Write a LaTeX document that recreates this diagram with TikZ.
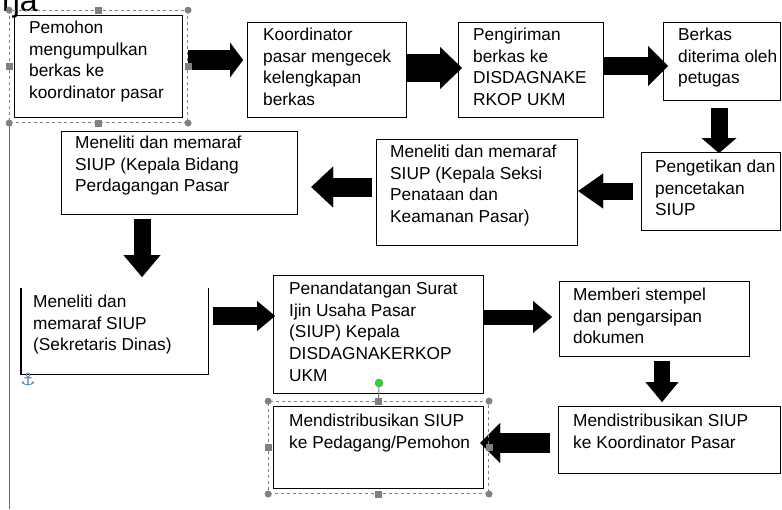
\documentclass[tikz,border=0pt]{standalone}
\usepackage{fontspec}
\setmainfont{Liberation Sans}
\newfontfamily\simbol{DejaVu Sans}
\usetikzlibrary{arrows.meta,fit}
\definecolor{birujangkar}{RGB}{74,126,187}
\definecolor{hijaupegang}{RGB}{40,220,40}

\begin{document}
\begin{tikzpicture}[x=1pt, y=-1pt,
  kotak/.style = {shape=rectangle, draw, line width=1.2pt,
    anchor=north west, inner sep=0pt},
  isi/.style = {anchor=north west, align=left, inner sep=0pt,
    font=\fontsize{17.3}{21.6}\selectfont},
  panah/.style n args = {3}{line width=#1,
    -{Triangle[width=#2, length=#3, line width=0.1pt]}},
  pilih/.style = {draw=gray, dashed, line width=0.7pt, inner sep=4.5pt},
  kotakpegang/.style = {shape=rectangle, fill=gray, minimum size=7pt, inner sep=0pt},
  bulatpegang/.style = {shape=circle, fill=gray, minimum size=7pt, inner sep=0pt}]
  \useasboundingbox (0,0) rectangle (782,509);

  \node[anchor=base west, inner sep=0pt, font=\fontsize{32}{32}\selectfont] (judul) at (2,11) {rja};

  \node[kotak, minimum width=168pt, minimum height=102pt] (b1) at (14,15) {};
  \node[kotak, minimum width=159pt, minimum height=95pt] (b2) at (247,22) {};
  \node[kotak, minimum width=145pt, minimum height=95pt] (b3) at (458,22) {};
  \node[kotak, minimum width=117pt, minimum height=78pt] (b4) at (663,22) {};
  \node[kotak, minimum width=139pt, minimum height=78pt] (b5) at (641,152) {};
  \node[kotak, minimum width=201pt, minimum height=106pt] (b6) at (376,139) {};
  \node[kotak, minimum width=236pt, minimum height=83pt] (b7) at (61,131) {};
  \node[kotak, draw=none, minimum width=186pt, minimum height=85pt] (b8) at (21,288) {};
  \draw[line width=1.2pt] (b8.north west) -- (b8.south west) -- (b8.south east) -- (b8.north east);
  \node[kotak, minimum width=210pt, minimum height=118pt] (b9) at (273,275) {};
  \node[kotak, minimum width=190pt, minimum height=75pt] (b10) at (559,281) {};
  \node[kotak, minimum width=222pt, minimum height=67pt] (b11) at (558,406) {};
  \node[kotak, minimum width=210pt, minimum height=82pt] (b12) at (273,406) {};

  \node[isi] (t1) at ([xshift=15pt, yshift=-6pt]b1.north west) {Pemohon\\mengumpulkan\\berkas ke\\koordinator pasar};
  \node[isi] (t2) at ([xshift=16pt, yshift=-6pt]b2.north west) {Koordinator\\pasar mengecek\\kelengkapan\\berkas};
  \node[isi] (t3) at ([xshift=15pt, yshift=-6pt]b3.north west) {Pengiriman\\berkas ke\\DISDAGNAKE\\RKOP UKM};
  \node[isi] (t4) at ([xshift=15pt, yshift=-6pt]b4.north west) {Berkas\\diterima oleh\\petugas};
  \node[isi] (t5) at ([xshift=14pt, yshift=-8pt]b5.north west) {Pengetikan dan\\pencetakan\\SIUP};
  \node[isi] (t6) at ([xshift=14pt, yshift=-6pt]b6.north west) {Meneliti dan memaraf\\SIUP (Kepala Seksi\\Penataan dan\\Keamanan Pasar)};
  \node[isi] (t7) at ([xshift=14pt, yshift=-5pt]b7.north west) {Meneliti dan memaraf\\SIUP (Kepala Bidang\\Perdagangan Pasar};
  \node[isi] (t8) at ([xshift=12pt, yshift=-7pt]b8.north west) {Meneliti dan\\memaraf SIUP\\(Sekretaris Dinas)};
  \node[isi] (t9) at ([xshift=16pt, yshift=-7pt]b9.north west) {Penandatangan Surat\\Ijin Usaha Pasar\\(SIUP) Kepala\\DISDAGNAKERKOP\\UKM};
  \node[isi] (t10) at ([xshift=14pt, yshift=-7pt]b10.north west) {Memberi stempel\\dan pengarsipan\\dokumen};
  \node[isi] (t11) at ([xshift=15pt, yshift=-8pt]b11.north west) {Mendistribusikan SIUP\\ke Koordinator Pasar};
  \node[isi] (t12) at ([xshift=16pt, yshift=-8pt]b12.north west) {Mendistribusikan SIUP\\ke Pedagang/Pemohon};

  \draw[panah={20pt}{35pt}{13pt}, shorten <=5pt, shorten >=4pt] (b1.east |- 0,60) -- (b2.west |- 0,60);
  \draw[panah={28pt}{42pt}{22pt}, shorten >=-4pt] (b2.east |- 0,68) -- (b3.west |- 0,68);
  \draw[panah={18pt}{40pt}{20pt}, shorten >=-5pt] (b3.east |- 0,66) -- (b4.west |- 0,66);
  \draw[panah={17pt}{35pt}{15pt}, shorten <=7pt, shorten >=-1pt] (b4.south -| 719,0) -- (b5.north -| 719,0);
  \draw[panah={17pt}{35pt}{25pt}, shorten <=8pt] (b5.west |- 0,191) -- (b6.east |- 0,191);
  \draw[panah={19pt}{41pt}{22pt}, shorten <=4pt, shorten >=13pt] (b6.west |- 0,187) -- (b7.east |- 0,187);
  \draw[panah={17pt}{37pt}{22pt}, shorten <=4pt, shorten >=11pt] (b7.south -| 142,0) -- (b8.north -| 142,0);
  \draw[panah={18pt}{30pt}{18pt}, shorten <=5pt, shorten >=-2pt] (b8.east |- 0,316) -- (b9.west |- 0,316);
  \draw[panah={15pt}{32pt}{19pt}, shorten <=-1pt, shorten >=7pt] (b9.east |- 0,317) -- (b10.west |- 0,317);
  \draw[panah={16pt}{33pt}{20pt}, shorten <=4pt, shorten >=4pt] (b10.south -| 662,0) -- (b11.north -| 662,0);
  \draw[panah={20pt}{40pt}{20pt}, shorten <=8pt, shorten >=-4pt] (b11.west |- 0,443) -- (b12.east |- 0,443);

  \node[pilih, fit=(b1)] (s1) {};
  \node[pilih, fit=(b12)] (s12) {};
  \coordinate (bawah) at (0,509);
  \draw[gray!80!black, line width=1pt] (s1.south west) -- (s1.south west |- bawah);
  \node[shape=circle, fill=hijaupegang, draw=gray, line width=0.5pt, minimum size=8pt, inner sep=0pt] (putar) at (379,383) {};
  \draw[gray, line width=1pt] (putar) -- (s12.north);
  \foreach \s in {s1, s12} {
    \foreach \a in {north west, north east, south west, south east}
      \node[bulatpegang] (\s-\a) at (\s.\a) {};
    \foreach \a in {north, south, east, west}
      \node[kotakpegang] (\s-\a) at (\s.\a) {};
  }
  \node[text=birujangkar, inner sep=0pt, font=\simbol\fontsize{17}{17}\selectfont] (jangkar) at (28,379) {⚓};
\end{tikzpicture}
\end{document}
